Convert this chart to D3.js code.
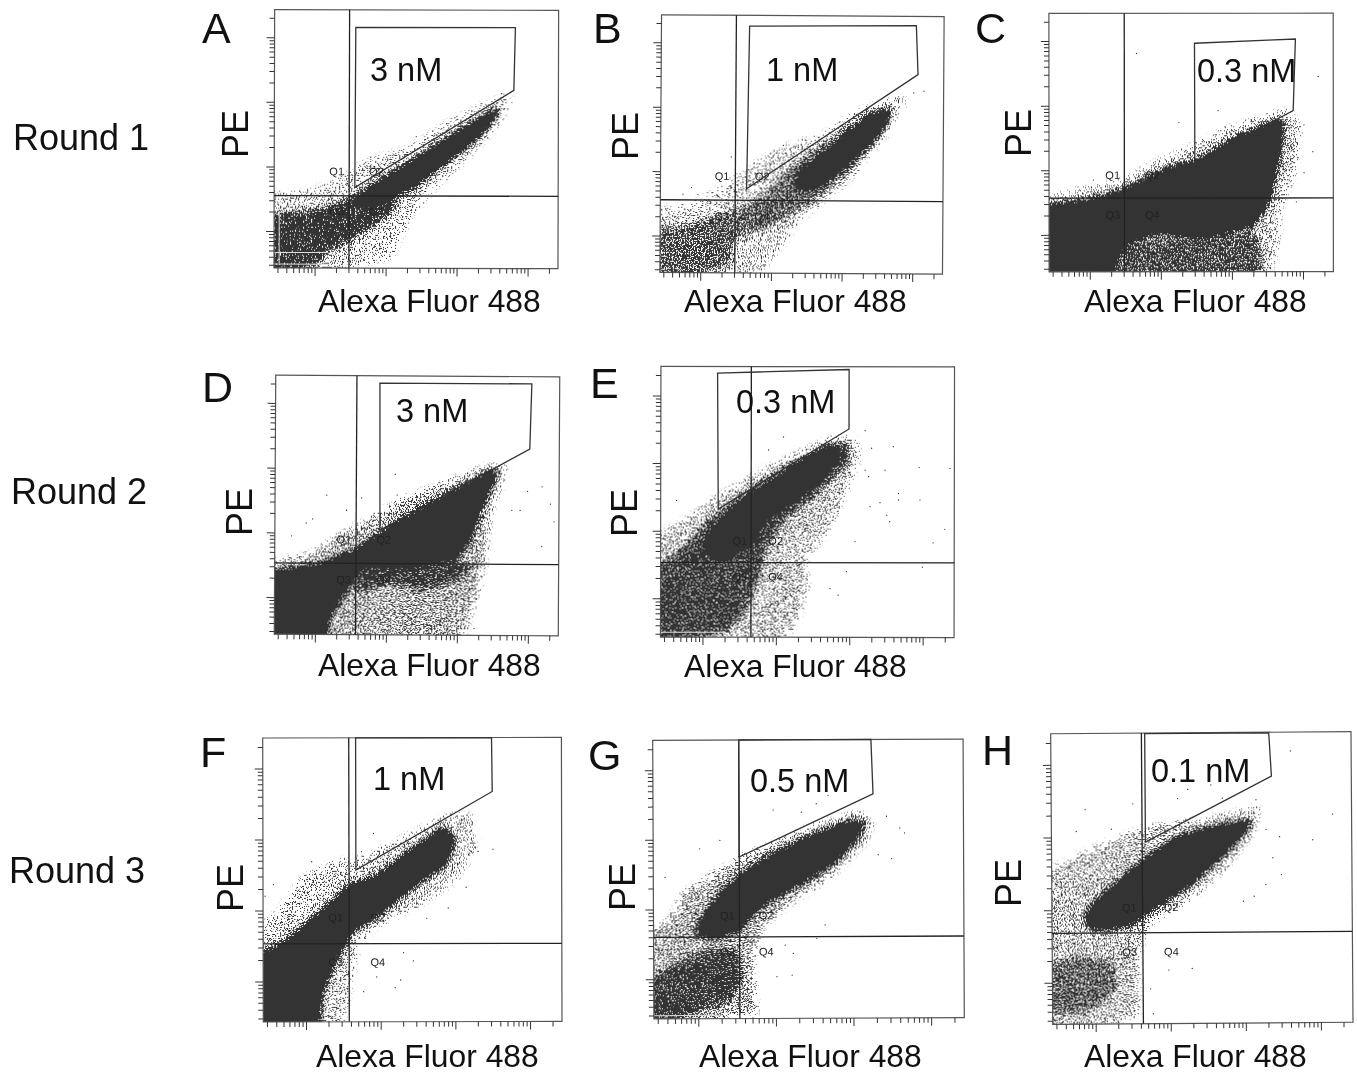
<!DOCTYPE html>
<html lang="en">
<head>
<meta charset="UTF-8">
<title>Alexa Fluor 488 / PE sorting rounds</title>
<script src="https://cdn.jsdelivr.net/npm/d3@7"></script>
<style>
    body { margin: 0; background: #fff; }
    svg { filter: blur(0.45px); }
    text { font-family: "Liberation Sans", Arial, sans-serif; fill: #111; }
    .tick line { stroke: #333; }
</style>
</head>
<body>
<svg id="chart" width="1357" height="1075"></svg>
<script>
// all plot values are display channels, 0-100 along each axis (4 log decades)
const panelNames = ["A", "B", "C", "D", "E", "F", "G", "H"];
const concentrations = ["3 nM", "1 nM", "0.3 nM", "3 nM", "0.3 nM", "1 nM", "0.5 nM", "0.1 nM"];
const roundNames = ["Round 1", "Round 2", "Round 3"];
const majorTicks = [100, 1000, 10000, 100000];
const minorTicks = [30, 40, 50, 60, 70, 80, 90, 200, 300, 400, 500, 600, 700, 800, 900,
    2000, 3000, 4000, 5000, 6000, 7000, 8000, 9000, 20000, 30000, 40000, 50000, 60000, 70000, 80000, 90000, 200000];

// quadrant thresholds [x, y]
const quadrants = [[26.4, 28], [26.5, 28.2], [26.5, 28.5], [28.6, 27.5], [30.8, 27.6], [28.8, 27.5], [27.7, 29.3], [30.2, 31.3]];
// Q label centres [x left, x right, y top, y bottom]
const quadLabels = [[22, 36, 37.4, 22], [21.8, 36, 37.5, 22], [22.4, 36.3, 37.4, 22], [24.3, 38.4, 36.7, 21.2],
    [27, 39.2, 35.6, 22.4], [24.3, 38.4, 36.7, 21], [23.8, 36.3, 37, 24], [25.8, 39.7, 40, 24.7]];

const gates = [
    [[28.6, 93.2], [84.8, 93.3], [84.3, 69], [28.4, 31.2]],
    [[31.2, 95.8], [90.2, 96.4], [90.9, 77.4], [30.5, 32.7]],
    [[51.2, 88.4], [86.7, 90], [85.9, 62.3], [51.3, 42.3]],
    [[36.7, 97.2], [90.2, 97.2], [89.6, 72], [37, 40.3]],
    [[19.3, 97.6], [64.1, 99], [64.1, 77], [19.6, 47.3]],
    [[31.1, 100], [76.6, 100], [76.8, 81], [31.1, 53.4]],
    [[27.7, 100], [70.3, 100], [70.9, 80.5], [27.7, 58]],
    [[31.3, 99.8], [72.6, 99.8], [73.4, 84.9], [31.3, 62.5]]
];

// population outlines, thin / medium / dense
const sparseClouds = [
    [[0, 28.4], [10, 29], [19.6, 32], [31, 40.6], [48, 46.4], [62, 56.8], [76, 64.5], [83.6, 67], [83, 64], [78, 55], [68, 43], [55, 30], [48, 21], [41, 4.5], [31, 2], [17, 0], [0, 0]],
    [[0, 23], [11, 26], [22.7, 33.6], [32, 41.4], [44, 49], [58, 54], [71, 63.4], [85, 68.6], [86.4, 67.3], [79, 54], [66, 36], [48.7, 20.7], [39, 5], [26, 0.6], [0, 0]],
    [[0, 26.4], [11, 31.6], [26, 35], [38, 42], [49.6, 47.7], [63.6, 55.5], [73, 58.7], [83.6, 62], [88, 56], [86, 38], [81, 25], [80, 9.7], [75.4, 0.6], [0, 0]],
    [[0, 27], [11, 30], [23, 38], [31, 43], [45, 52], [59, 58], [75.7, 65.6], [81.6, 65], [75.7, 48], [73.4, 26.4], [70, 12], [64, 0.6], [17, 0], [0, 0]],
    [[0, 33.5], [10.6, 44.6], [19.6, 52], [31, 59.4], [44.6, 66.8], [57, 73], [66, 74], [67.3, 66.8], [62.8, 53.2], [56, 38.4], [49, 28.6], [50, 18], [45, 3], [31, 0], [0, 0]],
    [[0, 28.2], [4.6, 37.6], [13.5, 50.5], [24.7, 56.4], [33.6, 57.5], [47, 64.6], [62.6, 72.8], [69.3, 72.8], [71.5, 61], [63.7, 49.3], [51.4, 41], [38, 34], [31.4, 27], [29, 13], [24.7, 0.6], [0, 0]],
    [[0, 28.7], [4.8, 34.7], [10.2, 45.4], [21, 52.6], [27.7, 57.4], [40.3, 63.4], [53.2, 69.4], [66, 73.6], [70.9, 70.6], [68.2, 63.4], [57.5, 51.4], [44.6, 41.9], [35, 33.5], [31.7, 21.5], [32.8, 2.4], [0, 0]],
    [[0, 49.3], [6, 56.2], [17.2, 62], [30, 67], [41.6, 68.8], [56, 71], [69.3, 74], [67, 65.4], [57, 52.8], [45, 42.4], [31.6, 34.4], [28.3, 24], [28.3, 3.4], [0, 0]]
];
const mediumClouds = [
    [[0, 20], [9, 22], [19.6, 24], [26, 27], [40, 27], [45, 26], [36, 17], [26, 10], [18, 6], [17, 2], [0, 0.6]],
    [[0, 16.8], [12, 19.4], [24, 23.3], [35.7, 29.8], [46.3, 41.4], [61.7, 54.3], [74.6, 64], [82.3, 66], [81, 57], [67.6, 40], [53.4, 27], [39, 18], [26.3, 13], [24, 2.6], [0, 0.6]],
    [[27.3, 11], [54, 14.8], [73, 14.8], [75.4, 3.2], [73, 0], [22.6, 0]],
    [[28.8, 26.4], [71, 27.7], [64, 21.2], [52.2, 17.4], [40.5, 20], [28.8, 16]],
    [[0, 21.2], [8.3, 33.5], [16.2, 43.4], [31, 55.7], [44.6, 64.3], [56, 71], [64, 72.3], [64, 64.3], [53.7, 53.2], [42.3, 43.4], [35.5, 32.3], [33, 20], [28, 8], [22, 2], [0, 0.9]],
    [],
    [[1, 10.8], [6, 19], [18.8, 25], [26.5, 24], [28.5, 14.4], [24.2, 6], [13.4, 2.4], [1, 1]],
    [[0, 20], [9, 23], [20, 22], [22, 12], [12, 4], [0, 3]]
];
const denseClouds = [
    [[26.6, 26.4], [36, 33.5], [50, 43], [64, 53], [76, 61], [79, 62.6], [78.3, 58.7], [72.4, 51], [62, 42], [50, 31.6], [40.7, 26.4], [31.3, 24]],
    [[48.7, 38.8], [62.8, 51.8], [73.5, 61.5], [80, 63.4], [81, 60.8], [74.6, 50.5], [64, 40], [54.6, 32.4], [47.5, 32.4]],
    [[0, 25.2], [13.2, 27.7], [26.5, 32.3], [42.5, 40.6], [52, 43.2], [66, 52.2], [80, 58.7], [83, 57.4], [81, 43], [77.7, 27.7], [72, 17.4], [54, 13.5], [38, 14.8], [27.3, 11], [23.8, 3.2], [22.6, 0], [0, 0]],
    [[0, 22.5], [17, 27.7], [28.6, 32.8], [37, 39.3], [52.2, 49.5], [64, 56.6], [77, 64.3], [78, 62.4], [73.4, 50.8], [68.7, 36.7], [64, 29], [47.5, 26.4], [31, 26.4], [26.4, 18.7], [19.4, 7], [17.6, 0], [0, 0]],
    [[16.2, 37.2], [23, 45.8], [31, 53.2], [42.3, 60.6], [53.7, 69.2], [60, 71.7], [60.5, 66.8], [56, 59.4], [46.9, 52], [35.5, 43.4], [30, 33.5], [19.6, 28.6], [15, 31]],
    [[0, 20], [6.8, 28.2], [13.5, 34], [20.2, 40], [28.6, 48], [38, 51.7], [51.4, 62.2], [60.4, 68.7], [64.8, 64.6], [61.5, 55.2], [51.4, 48], [40.3, 38.7], [30.2, 31.7], [24.7, 22.3], [20.2, 10.6], [18, 0.6], [0, 0]],
    [[14.5, 34.7], [21, 44.3], [27.7, 51.4], [38, 58.6], [51, 65.8], [63.9, 71.2], [68.2, 70.6], [66, 64.6], [57.5, 55], [44.6, 46.6], [33.8, 39.5], [27.4, 31], [18.8, 28.7], [13.4, 31]],
    [[11.6, 39], [18.3, 45.9], [30.2, 56.2], [41.6, 64.2], [53.8, 67.7], [66, 70], [66.5, 67.7], [58.2, 58.5], [47, 48.2], [35, 40], [25, 33.3], [15, 32], [11, 34.4]]
];

// single events away from the main populations
const outliers = [
    [[34, 43], [39.6, 43], [45.4, 45], [50, 51], [60.7, 56], [80, 67.7], [30, 38], [20.8, 33], [9, 29.7], [40.7, 4.5], [46.6, 20], [43, 23], [49.5, 29], [79, 55.5]],
    [[43.4, 49.6], [48.7, 49], [39, 46.6], [57.5, 53.7], [63.4, 58.9], [93, 71], [89.4, 70.3], [25, 45], [13.3, 30.4], [8, 30.4], [11, 33], [42.8, 13.6], [36.9, 2.6], [29, 6.5]],
    [[45.7, 57.7], [59.5, 62.3], [30.8, 84.5], [55, 19], [92.8, 46.4], [89.7, 38.3], [89.7, 56.8], [87, 27], [15.6, 35.5], [94.7, 75.5]],
    [[18.2, 53.8], [11, 43], [5.9, 38], [13.3, 44.6], [25.2, 48], [30.5, 52.8], [42.3, 62], [43, 54], [94, 57.5], [97, 50.8], [88.9, 55.7], [83.4, 48.3], [86.3, 48.3], [94, 34.4], [98.3, 44], [71, 13.9], [70.3, 2.6], [72.5, 17.6]],
    [[5.4, 50.5], [41.8, 74], [36.7, 69.2], [79.2, 70.5], [69.6, 76.4], [88, 62.8], [98.5, 62.5], [76.4, 61.8], [81, 53.2], [81, 50.8], [74.7, 49.8], [71.3, 48.3], [78, 42.8], [77, 45.2], [88.3, 50.8], [96.8, 40], [92.8, 35], [89.2, 26], [63.3, 24.3], [66.2, 35.4], [57.7, 18], [60.5, 15.6], [71.8, 69.9], [69.6, 61.8], [70.8, 59.4]],
    [[77, 60.7], [72, 59.9], [70, 69.3], [62, 40], [68, 47.3], [54.8, 36.4], [50.3, 21.4], [47, 24.3], [46, 14.7], [44.2, 12], [38, 15.8], [33.6, 10.6], [3.5, 48.4], [0.7, 44.3], [16.3, 56.4], [33, 59.9], [37, 66.3]],
    [[15, 61], [21.5, 64], [3.8, 50.8], [75.2, 72.4], [79.5, 68.2], [81, 66.4], [76.8, 57.2], [72.5, 58.6], [55.3, 33.5], [42.4, 26.3], [45, 23.3], [44.6, 15.5], [52.6, 28.7], [39.7, 15], [47.8, 74], [52.6, 77], [38.7, 74.8], [56.4, 80]],
    [[11.3, 73.8], [27.2, 75.7], [8.3, 66.3], [20, 67], [93.7, 71.7], [87, 62.9], [76.5, 51], [71.3, 47.6], [67.4, 43.6], [63.8, 41.9], [45.5, 80.5], [42.1, 77.4], [53.2, 82], [57, 77.4], [68.2, 76.8], [73.7, 56.8], [76, 64], [71.5, 66.5], [46.6, 18.9], [38.8, 18.4], [33.5, 3.4], [32.7, 12], [79.8, 93.5]]
];

// empty binning rows near the axis, [x1, y1, x2, y2]
const binGaps = [
    [[0, 6, 19, 6], [0, 1.5, 19, 1.5], [1.8, 2, 1.8, 22]],
    [], [], [],
    [[0, 1.8, 22, 1.8]],
    [],
    [[0, 1.2, 22, 1.2]],
    []
];

// page layout, one entry per panel
const frames = [
    {l: 274.3, r: 558.3, t: 10, b: 268.3, tilt: 0.15},
    {l: 660.7, r: 943.3, t: 15.7, b: 273.3, tilt: 0.37},
    {l: 1049, r: 1333.3, t: 13.3, b: 271.7, tilt: -0.05},
    {l: 275, r: 559, t: 376, b: 635, tilt: 0.33},
    {l: 660.7, r: 954.3, t: 366.7, b: 637.3, tilt: 0.1},
    {l: 263, r: 561.7, t: 737.7, b: 1021.7, tilt: -0.12},
    {l: 653.3, r: 963.7, t: 739.7, b: 1018.3, tilt: -0.25},
    {l: 1051.7, r: 1352, t: 732.7, b: 1023.3, tilt: -0.4}
];
const letterPos = [[202, 43], [593, 43], [975, 43], [202, 402], [590, 398], [200, 767], [588, 770], [982, 765]];
const xLabelPos = [[318, 312], [684, 312], [1084, 312], [318, 676], [684, 677], [316, 1067], [699, 1067], [1084, 1067]];
const yLabelPos = [[248, 134], [638, 136], [1031, 133], [252, 512], [637, 513], [243, 888], [635, 887], [1021, 883]];
const concPos = [[370, 81], [766, 81], [1197, 82], [396, 422], [736, 413], [373, 790], [750, 792], [1151, 782]];
const roundPos = [[13, 150], [11, 504], [9, 883]];

// how filled the thin and medium outlines look in each panel
const sparseFill = [0.2, 0.2, 0.25, 0.33, 0.25, 0.22, 0.33, 0.27];
const mediumFill = [0.65, 0.4, 0.45, 0.5, 0.55, 0, 0.52, 0.35];
const INK = "#333";
const LOG_MIN = Math.pow(10, 1.428), LOG_MAX = Math.pow(10, 5.428);

const svg = d3.select("#chart");

function addStippleFilter(id, seed, w, h) {
    const f = svg.append("filter")
        .attr("id", id)
        .attr("filterUnits", "userSpaceOnUse")
        .attr("x", -20).attr("y", -20).attr("width", w + 40).attr("height", h + 40)
        .attr("color-interpolation-filters", "sRGB");
    f.append("feGaussianBlur").attr("in", "SourceAlpha").attr("stdDeviation", 3).attr("result", "density");
    f.append("feTurbulence").attr("type", "fractalNoise").attr("baseFrequency", 0.75)
        .attr("numOctaves", 2).attr("seed", seed).attr("result", "raw");
    // stretch the grain so that coverage follows the density about linearly
    f.append("feColorMatrix").attr("in", "raw").attr("type", "matrix")
        .attr("values", "0 0 0 0 0  0 0 0 0 0  0 0 0 0 0  2.6 0 0 0 -0.8").attr("result", "noise");
    f.append("feComposite").attr("in", "density").attr("in2", "noise").attr("operator", "arithmetic")
        .attr("k1", 0).attr("k2", 1.35).attr("k3", 1).attr("k4", -1).attr("result", "sum");
    f.append("feComponentTransfer").attr("in", "sum").attr("result", "dots")
        .append("feFuncA").attr("type", "linear").attr("slope", 12).attr("intercept", 0);
    f.append("feFlood").attr("flood-color", INK).attr("result", "ink");
    f.append("feComposite").attr("in", "ink").attr("in2", "dots").attr("operator", "in");
}

function drawPanel(i) {
    const fr = frames[i];
    const w = fr.r - fr.l, h = fr.b - fr.t;
    const x = d3.scaleLinear().domain([0, 100]).range([0, w]);
    const y = d3.scaleLinear().domain([0, 100]).range([h, 0]);
    const xLog = d3.scaleLog().domain([LOG_MIN, LOG_MAX]).range([0, w]);
    const yLog = d3.scaleLog().domain([LOG_MIN, LOG_MAX]).range([h, 0]);

    const g = svg.append("g")
        .attr("transform", `translate(${fr.l},${fr.t}) rotate(${fr.tilt},${w / 2},${h / 2})`);

    svg.append("clipPath").attr("id", "clip" + i)
        .append("rect").attr("width", w).attr("height", h);
    addStippleFilter("stipple" + i, i + 3, w, h);

    // let outlines on the axes run past the frame so the blur does not fade there
    const bleed = v => (v <= 1 ? v - 8 : v);
    const outline = d3.line().x(d => x(bleed(d[0]))).y(d => y(bleed(d[1]))).curve(d3.curveLinearClosed);
    const gateLine = d3.line().x(d => x(d[0])).y(d => y(d[1])).curve(d3.curveLinearClosed);

    const clip = g.append("g").attr("clip-path", `url(#clip${i})`);
    const clouds = clip.append("g").attr("filter", `url(#stipple${i})`);
    const layers = [[sparseClouds[i], sparseFill[i]], [mediumClouds[i], mediumFill[i]], [denseClouds[i], 1]];
    layers.forEach(([pts, density]) => {
        if (pts.length) clouds.append("path").attr("d", outline(pts)).attr("fill", "#000").attr("fill-opacity", density);
    });
    clip.selectAll("line").data(binGaps[i]).join("line")
        .attr("x1", d => x(d[0])).attr("y1", d => y(d[1]))
        .attr("x2", d => x(d[2])).attr("y2", d => y(d[3]))
        .attr("stroke", "#ddd").attr("stroke-width", 1);

    g.append("g").selectAll("circle").data(outliers[i]).join("circle")
        .attr("cx", d => x(d[0])).attr("cy", d => y(d[1])).attr("r", 0.65).attr("fill", INK);

    g.append("rect").attr("width", w).attr("height", h)
        .attr("fill", "none").attr("stroke", "#555").attr("stroke-width", 1.2);

    [[minorTicks, 5], [majorTicks, 8]].forEach(([vals, size]) => {
        g.append("g").attr("transform", `translate(0,${h})`)
            .call(d3.axisBottom(xLog).tickValues(vals).tickSize(size).tickFormat(""))
            .call(a => a.select(".domain").remove());
        g.append("g")
            .call(d3.axisLeft(yLog).tickValues(vals).tickSize(size).tickFormat(""))
            .call(a => a.select(".domain").remove());
    });

    const [qx, qy] = quadrants[i];
    g.append("line").attr("x1", x(qx)).attr("x2", x(qx)).attr("y1", 0).attr("y2", h)
        .attr("stroke", "#222").attr("stroke-width", 1.3);
    g.append("line").attr("x1", 0).attr("x2", w).attr("y1", y(qy)).attr("y2", y(qy))
        .attr("stroke", "#222").attr("stroke-width", 1.3);

    g.append("path").attr("d", gateLine(gates[i]))
        .attr("fill", "none").attr("stroke", "#333").attr("stroke-width", 1.3);

    const [q1, q2, q3, q4] = quadLabels[i];
    [["Q1", q1, q3], ["Q2", q2, q3], ["Q3", q1, q4], ["Q4", q2, q4]].forEach(([txt, qlx, qly]) => {
        g.append("text").attr("x", x(qlx)).attr("y", y(qly)).attr("dy", "0.35em")
            .attr("text-anchor", "middle").attr("font-size", 11).style("fill", "#222").text(txt);
    });

    svg.append("text").attr("x", letterPos[i][0]).attr("y", letterPos[i][1])
        .attr("font-size", 43).text(panelNames[i]);
    svg.append("text").attr("x", xLabelPos[i][0]).attr("y", xLabelPos[i][1])
        .attr("font-size", 31.8).text("Alexa Fluor 488");
    svg.append("text").attr("transform", `translate(${yLabelPos[i][0]},${yLabelPos[i][1]}) rotate(-90)`)
        .attr("text-anchor", "middle").attr("font-size", 36).text("PE");
    svg.append("text").attr("x", concPos[i][0]).attr("y", concPos[i][1])
        .attr("font-size", 32.5).text(concentrations[i]);
}

panelNames.forEach((_, i) => drawPanel(i));

roundNames.forEach((name, i) => {
    svg.append("text").attr("x", roundPos[i][0]).attr("y", roundPos[i][1])
        .attr("font-size", 36).text(name);
});
</script>
</body>
</html>
